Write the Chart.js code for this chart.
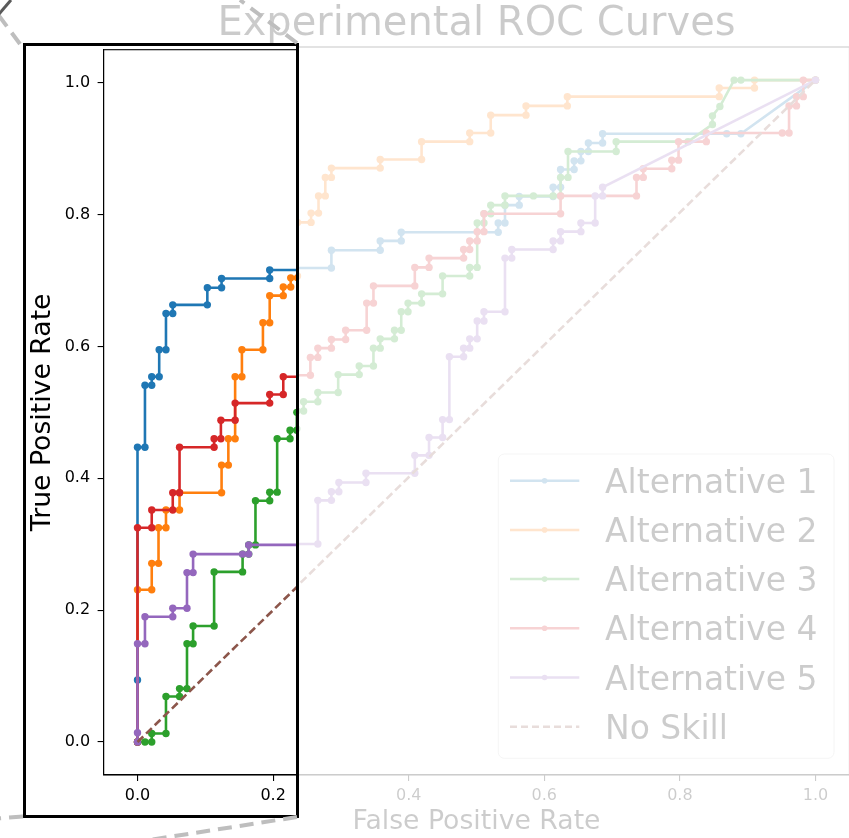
<!DOCTYPE html>
<html><head><meta charset="utf-8">
<script src="https://cdn.jsdelivr.net/npm/chart.js@4.4.1/dist/chart.umd.min.js"></script>
<style>
html,body{margin:0;padding:0;background:#fff;width:849px;height:838px;overflow:hidden;position:relative;}
#main{position:absolute;left:0;top:0;opacity:0.2;}
#insetBox{position:absolute;left:23px;top:43px;width:276px;height:775px;border:3px solid #000;box-sizing:border-box;background:#fff;overflow:hidden;}
#inset{position:absolute;left:0;top:0;}
#deco{position:absolute;left:0;top:0;pointer-events:none;}
</style></head>
<body>
<canvas id="main" width="860" height="838"></canvas>
<div id="insetBox"><canvas id="inset" width="280" height="769"></canvas></div>
<canvas id="deco" width="849" height="838"></canvas>
<script>
// ---------------- data ----------------
const chartTitle = 'Experimental ROC Curves';
const xAxisTitle = 'False Positive Rate';
const yAxisTitle = 'True Positive Rate';
const tickValues = [0.0, 0.2, 0.4, 0.6, 0.8, 1.0];
const seriesNames = ['Alternative 1', 'Alternative 2', 'Alternative 3', 'Alternative 4', 'Alternative 5', 'No Skill'];

const alt1FPR = [0,0,0,0.011,0.011,0.021,0.021,0.032,0.032,0.042,0.042,0.052,0.052,0.103,0.103,0.124,0.124,0.195,0.195,0.286,0.286,0.358,0.358,0.389,0.389,0.532,0.532,0.542,0.542,0.563,0.563,0.613,0.613,0.624,0.624,0.644,0.644,0.654,0.654,0.665,0.665,0.686,0.686,0.869,0.890,1.0];
const alt1TPR = [0,0.094,0.447,0.447,0.541,0.541,0.554,0.554,0.595,0.595,0.650,0.650,0.663,0.663,0.689,0.689,0.703,0.703,0.716,0.716,0.743,0.743,0.757,0.757,0.770,0.770,0.784,0.784,0.811,0.811,0.824,0.824,0.838,0.838,0.865,0.865,0.878,0.878,0.892,0.892,0.905,0.905,0.919,0.919,0.919,1.0];

const alt2FPR = [0,0,0.021,0.021,0.031,0.031,0.042,0.042,0.062,0.062,0.124,0.124,0.134,0.134,0.144,0.144,0.154,0.154,0.185,0.185,0.195,0.195,0.215,0.215,0.226,0.226,0.236,0.236,0.256,0.256,0.267,0.267,0.277,0.277,0.286,0.286,0.358,0.358,0.419,0.419,0.490,0.490,0.521,0.521,0.573,0.573,0.634,0.634,0.858,0.858,0.910,0.910,1.0];
const alt2TPR = [0,0.231,0.231,0.271,0.271,0.325,0.325,0.352,0.352,0.378,0.378,0.420,0.420,0.460,0.460,0.554,0.554,0.595,0.595,0.636,0.636,0.677,0.677,0.690,0.690,0.704,0.704,0.785,0.785,0.799,0.799,0.825,0.825,0.853,0.853,0.867,0.867,0.880,0.880,0.907,0.907,0.920,0.920,0.947,0.947,0.961,0.961,0.975,0.975,0.988,0.988,1.0,1.0];

const alt3FPR = [0,0.011,0.021,0.021,0.042,0.042,0.062,0.062,0.073,0.073,0.082,0.082,0.113,0.113,0.155,0.155,0.164,0.164,0.174,0.174,0.195,0.195,0.206,0.206,0.225,0.225,0.235,0.235,0.245,0.245,0.266,0.266,0.296,0.296,0.327,0.327,0.348,0.348,0.358,0.358,0.379,0.379,0.389,0.389,0.399,0.399,0.419,0.419,0.450,0.450,0.490,0.490,0.501,0.501,0.511,0.511,0.521,0.521,0.542,0.542,0.584,0.613,0.624,0.624,0.635,0.635,0.706,0.706,0.812,0.848,0.848,0.859,0.880,0.890,1.0];
const alt3TPR = [0,0,0,0.013,0.013,0.069,0.069,0.081,0.081,0.149,0.149,0.176,0.176,0.258,0.258,0.285,0.285,0.299,0.299,0.366,0.366,0.379,0.379,0.460,0.460,0.473,0.473,0.500,0.500,0.514,0.514,0.528,0.528,0.555,0.555,0.568,0.568,0.595,0.595,0.609,0.609,0.622,0.622,0.650,0.650,0.663,0.663,0.677,0.677,0.704,0.704,0.717,0.717,0.784,0.784,0.798,0.798,0.811,0.811,0.825,0.825,0.825,0.825,0.853,0.853,0.892,0.892,0.907,0.907,0.933,0.946,0.960,1.0,1.0,1.0];

const alt4FPR = [0,0,0.021,0.021,0.052,0.052,0.062,0.062,0.113,0.113,0.123,0.123,0.144,0.144,0.195,0.195,0.215,0.215,0.255,0.255,0.266,0.266,0.286,0.286,0.307,0.307,0.338,0.338,0.348,0.348,0.409,0.409,0.430,0.430,0.481,0.481,0.490,0.490,0.501,0.501,0.511,0.511,0.624,0.624,0.736,0.736,0.746,0.746,0.788,0.788,0.798,0.798,0.839,0.839,0.951,0.961,0.961,0.972,0.972,0.982,0.982,1.0];
const alt4TPR = [0,0.325,0.325,0.352,0.352,0.378,0.378,0.447,0.447,0.460,0.460,0.488,0.488,0.514,0.514,0.527,0.527,0.554,0.554,0.581,0.581,0.595,0.595,0.608,0.608,0.622,0.622,0.663,0.663,0.689,0.689,0.717,0.717,0.731,0.731,0.744,0.744,0.757,0.757,0.771,0.771,0.798,0.798,0.825,0.825,0.853,0.853,0.866,0.866,0.879,0.879,0.907,0.907,0.920,0.920,0.920,0.961,0.961,0.975,0.975,1.0,1.0];

const alt5FPR = [0,0,0,0.011,0.011,0.052,0.052,0.073,0.073,0.082,0.082,0.155,0.164,0.164,0.266,0.266,0.286,0.286,0.297,0.297,0.337,0.337,0.409,0.409,0.430,0.430,0.450,0.450,0.460,0.460,0.481,0.481,0.490,0.490,0.501,0.501,0.511,0.511,0.542,0.542,0.552,0.552,0.613,0.613,0.624,0.624,0.654,0.654,0.675,0.675,0.686,0.686,1.0];
const alt5TPR = [0,0.014,0.149,0.149,0.190,0.190,0.203,0.203,0.257,0.257,0.285,0.285,0.285,0.299,0.299,0.365,0.365,0.378,0.378,0.392,0.392,0.406,0.406,0.433,0.433,0.460,0.460,0.487,0.487,0.582,0.582,0.595,0.595,0.609,0.609,0.636,0.636,0.650,0.650,0.731,0.731,0.744,0.744,0.757,0.757,0.771,0.771,0.784,0.784,0.825,0.825,0.838,1.0];

const noSkillFPR = [0, 1];
const noSkillTPR = [0, 1];

// ---------------- styling ----------------
const colors = ['#1f77b4', '#ff7f0e', '#2ca02c', '#d62728', '#9467bd', '#8c564b'];
const FONT = "'DejaVu Sans', sans-serif";
Chart.defaults.font.family = FONT;
Chart.defaults.color = '#000';

const toPts = (xs, ys) => xs.map((x, i) => ({x: x, y: ys[i]}));
const curveX = [alt1FPR, alt2FPR, alt3FPR, alt4FPR, alt5FPR];
const curveY = [alt1TPR, alt2TPR, alt3TPR, alt4TPR, alt5TPR];

function makeDatasets() {
  const ds = curveX.map((xs, i) => ({
    label: seriesNames[i],
    data: toPts(xs, curveY[i]),
    borderColor: colors[i], backgroundColor: colors[i],
    pointBackgroundColor: colors[i], pointBorderWidth: 0,
    borderWidth: 2.6, pointRadius: 3.7, pointHoverRadius: 3.7,
    tension: 0, order: -i, clip: 0
  }));
  ds.push({
    label: seriesNames[5], data: toPts(noSkillFPR, noSkillTPR),
    borderColor: colors[5], backgroundColor: colors[5], borderWidth: 2.6,
    borderDash: [8, 4], pointRadius: 0, tension: 0, order: -5, clip: 0
  });
  return ds;
}

const framePlugin = {
  id: 'frame',
  afterDatasetsDraw(chart) {
    const {ctx, chartArea: a} = chart;
    ctx.save();
    ctx.strokeStyle = '#000'; ctx.lineWidth = 1.1;
    ctx.strokeRect(a.left, a.top, a.right - a.left, a.bottom - a.top);
    ctx.restore();
  }
};

const legendPlugin = {
  id: 'rocLegend',
  afterDraw(chart) {
    const {ctx, chartArea: a} = chart;
    const x1 = a.right - 15.4, y1 = a.bottom - 16.7;
    const x0 = x1 - 335.7, y0 = y1 - 304.3;
    ctx.save();
    ctx.beginPath();
    ctx.roundRect(x0, y0, x1 - x0, y1 - y0, 6);
    ctx.fillStyle = 'rgba(255,255,255,0.8)'; ctx.fill();
    ctx.strokeStyle = '#cccccc'; ctx.lineWidth = 1; ctx.stroke();
    ctx.font = '33px ' + FONT;
    ctx.textBaseline = 'alphabetic'; ctx.textAlign = 'left';
    seriesNames.forEach((name, i) => {
      const cy = y0 + 26.7 + i * 49.2;
      ctx.strokeStyle = colors[i]; ctx.lineWidth = 2.5;
      ctx.setLineDash(i === 5 ? [7, 4] : []);
      ctx.beginPath(); ctx.moveTo(x0 + 11.7, cy); ctx.lineTo(x0 + 81, cy); ctx.stroke();
      ctx.setLineDash([]);
      if (i < 5) {
        ctx.fillStyle = colors[i];
        ctx.beginPath(); ctx.arc(x0 + 46.3, cy, 2.8, 0, Math.PI * 2); ctx.fill();
      }
      ctx.fillStyle = '#000';
      ctx.fillText(name, x0 + 106.7, cy + 12);
    });
    ctx.restore();
  }
};

function tickSetter(min, max) {
  return (s) => { s.ticks = tickValues.filter(v => v >= min - 1e-9 && v <= max + 1e-9).map(v => ({value: v})); };
}

function makeScales(xmin, xmax, yWidth, xHeight, showXTitle, showYTitle, yTitlePad) {
  const common = {
    type: 'linear',
    grid: {drawOnChartArea: false, drawTicks: true, tickLength: 6, color: '#000', lineWidth: 1.1},
    border: {display: true, color: '#000', width: 1.1},
    ticks: {font: {size: 16}, color: '#000', callback: v => Number(v).toFixed(1)}
  };
  const zeroPad = (s) => { s.paddingTop = 0; s.paddingBottom = 0; s.paddingLeft = 0; s.paddingRight = 0; };
  return {
    x: Object.assign({}, common, {
      min: xmin, max: xmax,
      ticks: Object.assign({}, common.ticks, {padding: 5, maxRotation: 0}),
      afterBuildTicks: tickSetter(xmin, xmax),
      afterFit: s => { s.height = xHeight; zeroPad(s); },
      title: {display: showXTitle, text: xAxisTitle, font: {size: 26.7}, padding: {top: 0, bottom: 0}}
    }),
    y: Object.assign({}, common, {
      min: -0.05, max: 1.05,
      ticks: Object.assign({}, common.ticks, {padding: 7.5}),
      afterBuildTicks: tickSetter(-0.05, 1.05),
      afterFit: s => { s.width = yWidth; zeroPad(s); },
      title: {display: showYTitle, text: yAxisTitle, font: {size: 26.7}, padding: {top: yTitlePad, bottom: 0}}
    })
  };
}

// main (faded) chart
new Chart(document.getElementById('main'), {
  type: 'line',
  data: {datasets: makeDatasets()},
  options: {
    responsive: false, animation: false, devicePixelRatio: 1,
    layout: {padding: {left: 0, right: 10.6, top: 0, bottom: 0}},
    plugins: {
      legend: {display: false}, tooltip: {enabled: false},
      title: {display: true, text: chartTitle, color: '#000', fullSize: false,
        font: {size: 40, weight: 'normal', lineHeight: 1}, padding: {top: 5, bottom: 2}}
    },
    scales: makeScales(-0.05, 1.05, 103.6, 63, true, false, 2)
  },
  plugins: [framePlugin, legendPlugin]
});

// inset (zoomed) chart
new Chart(document.getElementById('inset'), {
  type: 'line',
  data: {datasets: makeDatasets()},
  options: {
    responsive: false, animation: false, devicePixelRatio: 1,
    layout: {padding: {left: 0, right: 9.17, top: 1, bottom: 0}},
    plugins: {legend: {display: false}, tooltip: {enabled: false}, title: {display: false}},
    scales: makeScales(-0.05, 0.235, 77.6, 40, false, true, 1.5)
  },
  plugins: [framePlugin]
});

// connector decoration (dashed guide lines)
(function () {
  const c = document.getElementById('deco').getContext('2d');
  c.lineWidth = 4; c.lineCap = 'butt';
  c.strokeStyle = 'rgba(190,190,190,1)';
  c.setLineDash([14, 8]);
  const seg = (a, b, d, e) => { c.beginPath(); c.moveTo(a, b); c.lineTo(d, e); c.stroke(); };
  seg(297, 43, 240, 0);
  seg(297, 817, 40, 857);
  seg(23, 816.5, -10, 819);
  seg(20, 44, -3, 13);
  c.setLineDash([]);
  c.strokeStyle = 'rgba(90,90,90,1)'; c.lineWidth = 3;
  seg(-1, 14, 11, 0);
})();
</script>
</body></html>
